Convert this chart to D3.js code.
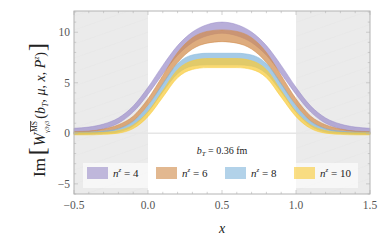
<!DOCTYPE html>
<html lang="en">
<head>
<meta charset="UTF-8">
<title>Im W band plot</title>
<style>
  html, body { margin: 0; padding: 0; background: #fff; }
  svg { display: block; font-family: 'Liberation Serif', 'DejaVu Serif', serif; }
</style>
</head>
<body>
<div id="chart"></div>
<script src="https://d3js.org/d3.v7.min.js"></script>
<script>
// ---- data ----
const xs = [-0.5,-0.4,-0.3,-0.2,-0.1,0.0,0.1,0.2,0.3,0.4,0.5,0.6,0.7,0.8,0.9,1.0,1.1,1.2,1.3,1.4,1.5];

const lo4  = [0.05,0.18,0.45,1.0,2.1,3.85,5.88,7.72,8.98,9.65,9.9,9.65,8.98,7.72,5.88,3.85,2.1,1.0,0.45,0.18,0.05];
const hi4  = [0.5,0.62,0.92,1.52,2.7,4.55,6.72,8.68,10.02,10.75,11.0,10.75,10.02,8.68,6.72,4.55,2.7,1.52,0.92,0.62,0.5];
const lo6  = [-0.07,-0.02,0.12,0.45,1.2,2.78,4.88,7.0,8.34,8.92,9.07,8.92,8.34,7.0,4.88,2.78,1.2,0.45,0.12,-0.02,-0.07];
const hi6  = [0.17,0.22,0.42,0.85,1.7,3.42,5.72,8.0,9.46,10.08,10.23,10.08,9.46,8.0,5.72,3.42,1.7,0.85,0.42,0.22,0.17];
const lo8  = [-0.1,-0.08,-0.02,0.14,0.73,2.1,4.1,5.9,6.65,6.78,6.78,6.78,6.65,5.9,4.1,2.1,0.73,0.14,-0.02,-0.08,-0.1];
const hi8  = [0.1,0.12,0.22,0.46,1.17,2.7,4.9,6.9,7.75,7.92,7.92,7.92,7.75,6.9,4.9,2.7,1.17,0.46,0.22,0.12,0.1];
const lo10 = [-0.15,-0.15,-0.1,0.02,0.47,1.65,3.57,5.5,6.32,6.5,6.5,6.5,6.32,5.5,3.57,1.65,0.47,0.02,-0.1,-0.15,-0.15];
const hi10 = [0.05,0.05,0.1,0.28,0.83,2.15,4.23,6.3,7.18,7.4,7.4,7.4,7.18,6.3,4.23,2.15,0.83,0.28,0.1,0.05,0.05];

const nz = ["4", "6", "8", "10"];
const colors = ["#9d8fca", "#d18c4c", "#82b6dc", "#f8cb3a"];
const bands = [[lo4, hi4], [lo6, hi6], [lo8, hi8], [lo10, hi10]];

const xTicks = [-0.5, 0, 0.5, 1, 1.5];
const yTicks = [-5, 0, 5, 10];

// ---- layout ----
const W = 382, H = 243;
const x = d3.scaleLinear().domain([-0.5, 1.5]).range([74, 370]);
const y = d3.scaleLinear().domain([-6, 12.1]).range([194, 11]);

const svg = d3.select("#chart").append("svg")
  .attr("width", W).attr("height", H);

// shaded regions outside 0..1
const defs = svg.append("defs");
const pat = defs.append("pattern")
  .attr("id", "hatch").attr("patternUnits", "userSpaceOnUse")
  .attr("width", 40).attr("height", 14);
pat.append("rect").attr("width", 40).attr("height", 14).attr("fill", "#ebebeb");
pat.append("path").attr("d", "M0,14 L40,0").attr("stroke", "#e5e5e5").attr("stroke-width", 0.6);

svg.append("rect")
  .attr("x", x(-0.5)).attr("y", y(12.1))
  .attr("width", x(0) - x(-0.5)).attr("height", y(-6) - y(12.1))
  .attr("fill", "url(#hatch)");
svg.append("rect")
  .attr("x", x(1)).attr("y", y(12.1))
  .attr("width", x(1.5) - x(1)).attr("height", y(-6) - y(12.1))
  .attr("fill", "url(#hatch)");

// zero line
svg.append("line")
  .attr("x1", x(-0.5)).attr("x2", x(1.5))
  .attr("y1", y(0)).attr("y2", y(0))
  .attr("stroke", "#e6e6e6").attr("stroke-width", 1.5);

// bands
const area = d3.area()
  .x((d, i) => x(xs[i]))
  .y0(d => y(d[0]))
  .y1(d => y(d[1]))
  .curve(d3.curveMonotoneX);

bands.forEach((b, k) => {
  const pts = xs.map((_, i) => [b[0][i], b[1][i]]);
  svg.append("path")
    .datum(pts)
    .attr("d", area)
    .attr("fill", colors[k])
    .attr("fill-opacity", 0.72)
    .attr("stroke", colors[k])
    .attr("stroke-width", 0.6)
    .attr("stroke-opacity", 0.9);
});

// frame + ticks
const frame = svg.append("g");
frame.append("rect")
  .attr("x", x(-0.5)).attr("y", y(12.1))
  .attr("width", x(1.5) - x(-0.5)).attr("height", y(-6) - y(12.1))
  .attr("fill", "none").attr("stroke", "#b4b4b4").attr("stroke-width", 1);

const tickCol = "#b4b4b4";
d3.range(-0.5, 1.501, 0.1).forEach(v => {
  const major = Math.abs(Math.round(v * 2) - v * 2) < 1e-6;
  const len = major ? 4 : 2.2;
  frame.append("line").attr("x1", x(v)).attr("x2", x(v))
    .attr("y1", y(-6)).attr("y2", y(-6) - len).attr("stroke", tickCol).attr("stroke-width", 0.6);
  frame.append("line").attr("x1", x(v)).attr("x2", x(v))
    .attr("y1", y(12.1)).attr("y2", y(12.1) + len).attr("stroke", tickCol).attr("stroke-width", 0.6);
});
d3.range(-6, 12.01, 1).forEach(v => {
  const major = v % 5 === 0;
  const len = major ? 4 : 2.2;
  frame.append("line").attr("y1", y(v)).attr("y2", y(v))
    .attr("x1", x(-0.5)).attr("x2", x(-0.5) + len).attr("stroke", tickCol).attr("stroke-width", 0.6);
  frame.append("line").attr("y1", y(v)).attr("y2", y(v))
    .attr("x1", x(1.5)).attr("x2", x(1.5) - len).attr("stroke", tickCol).attr("stroke-width", 0.6);
});

const fmt = v => (v < 0 ? "\u2212" : "") + Math.abs(v).toFixed(1);
svg.selectAll(".xt").data(xTicks).enter().append("text")
  .attr("x", d => x(d)).attr("y", 209)
  .attr("text-anchor", "middle")
  .attr("font-size", 11.5).attr("fill", "#555")
  .text(fmt);
svg.selectAll(".yt").data(yTicks).enter().append("text")
  .attr("x", 70).attr("y", d => y(d) + 4)
  .attr("text-anchor", "end")
  .attr("font-size", 11.5).attr("fill", "#555")
  .text(d => (d < 0 ? "\u2212" : "") + Math.abs(d));

// axis titles
svg.append("text")
  .attr("x", 222).attr("y", 233)
  .attr("text-anchor", "middle")
  .attr("font-size", 14).attr("font-style", "italic").attr("fill", "#222")
  .text("x");

const yl = svg.append("text")
  .attr("transform", "translate(45,110) rotate(-90)")
  .attr("text-anchor", "middle")
  .attr("fill", "#222");
yl.append("tspan").attr("font-size", 17).text("Im");
yl.append("tspan").attr("font-size", 24).attr("dx", 3).attr("font-weight", 300).text("[");
yl.append("tspan").attr("font-size", 16).attr("font-style", "italic").attr("dx", 1).text("W");
yl.append("tspan").attr("font-size", 7.5).attr("dx", 1).attr("dy", -8)
  .attr("text-decoration", "overline").text("MS");
yl.append("tspan").attr("font-size", 6.5).attr("dx", -12).attr("dy", 12).text("\u03b33\u03b33");
yl.append("tspan").attr("font-size", 14).attr("dx", 2).attr("dy", -4).text("(");
yl.append("tspan").attr("font-size", 14).attr("font-style", "italic").text("b");
yl.append("tspan").attr("font-size", 8).attr("font-style", "italic").attr("dy", 3).text("T");
yl.append("tspan").attr("font-size", 14).attr("dy", -3).text(", ");
yl.append("tspan").attr("font-size", 14).attr("font-style", "italic").text("\u03bc");
yl.append("tspan").attr("font-size", 14).text(", ");
yl.append("tspan").attr("font-size", 14).attr("font-style", "italic").text("x");
yl.append("tspan").attr("font-size", 14).text(", ");
yl.append("tspan").attr("font-size", 14).attr("font-style", "italic").text("P");
yl.append("tspan").attr("font-size", 8).attr("font-style", "italic").attr("dy", -6).text("z");
yl.append("tspan").attr("font-size", 14).attr("dy", 6).text(")");
yl.append("tspan").attr("font-size", 24).attr("dx", 1).text("]");

// b_T annotation
const bt = svg.append("text")
  .attr("x", 222).attr("y", 154)
  .attr("text-anchor", "middle")
  .attr("font-size", 10).attr("fill", "#222");
bt.append("tspan").attr("font-style", "italic").text("b");
bt.append("tspan").attr("font-style", "italic").attr("font-size", 7).attr("dy", 2).text("T");
bt.append("tspan").attr("dy", -2).text(" = 0.36 fm");

// legend
const leg = svg.append("g");
leg.append("rect")
  .attr("x", 83).attr("y", 163).attr("width", 275).attr("height", 25)
  .attr("fill", "#ffffff").attr("fill-opacity", 0.6);
nz.forEach((n, k) => {
  const lx = 87 + k * 69;
  leg.append("rect")
    .attr("x", lx).attr("y", 167).attr("width", 21).attr("height", 12)
    .attr("fill", colors[k]).attr("fill-opacity", 0.62);
  const t = leg.append("text")
    .attr("x", lx + 26).attr("y", 177)
    .attr("font-size", 11).attr("fill", "#222");
  t.append("tspan").attr("font-style", "italic").text("n");
  t.append("tspan").attr("font-style", "italic").attr("font-size", 7).attr("dy", -5).text("z");
  t.append("tspan").attr("dy", 5).text(" = " + n);
});
</script>
</body>
</html>
